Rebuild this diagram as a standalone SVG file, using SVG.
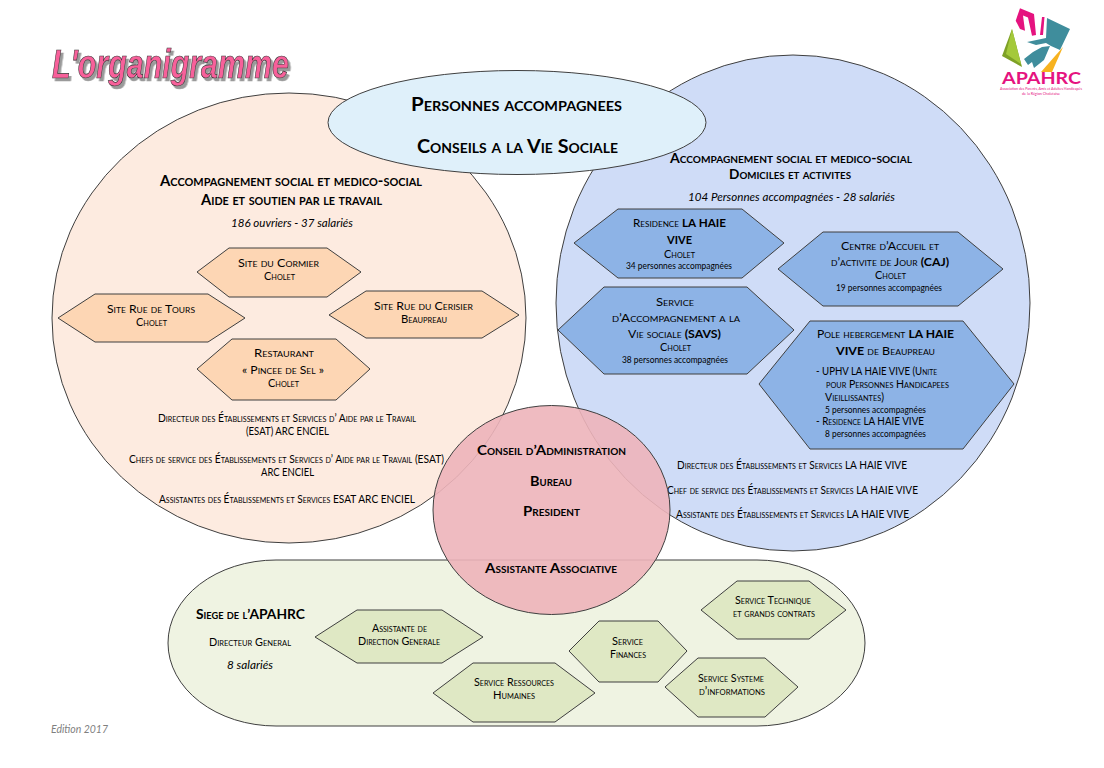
<svg xmlns="http://www.w3.org/2000/svg" width="1104" height="768" viewBox="0 0 1104 768">
<style>
text{font-family:Lato,"Noto Sans","Liberation Sans",sans-serif;fill:#000;font-variant:small-caps}
.sh{stroke:#3f3f3f;stroke-width:1}
.h{font-size:11.5px}
.s{font-size:10.5px}
.p{font-size:8.5px;font-variant:normal}
.t{font-size:15px;font-weight:700}
.l{font-size:18.5px;font-weight:700}
.m{font-size:13.5px;font-weight:700}
.i{font-size:11.5px;font-style:italic;font-variant:normal}
.o{fill:#fdd6b4}.b{fill:#8db3e6}.g{fill:#dfe8c4}
tspan.k{font-weight:700}
</style>
<defs>
<filter id="ts" x="-5%" y="-5%" width="110%" height="125%"><feDropShadow dx="2.5" dy="3" stdDeviation="0.6" flood-color="#9a9a9a"/></filter>
</defs>
<g id="titre"><text x="52" y="78" font-size="41" textLength="237" lengthAdjust="spacingAndGlyphs" filter="url(#ts)" style="font-family:'Liberation Sans',sans-serif;font-weight:700;font-style:italic;font-variant:normal;fill:#f7609a;stroke:#333;stroke-width:0.7">L'organigramme</text></g>
<g id="logo">
<polygon points="1012,29 1002,56 1022,67" fill="#7ea126"/>
<polygon points="1012,29 1006,54 1021,64" fill="#a4c93a"/>
<path d="M1015.7,20.7 L1020,8.3 L1034,14 L1036,35 L1032,35.7 L1028,17.5 L1023,15.5 L1025,30.7 L1020,29Z M1042,17 L1044.5,17 L1043,35 L1040,35Z" fill="#e5137f"/>
<path d="M1047,18 L1070,29 L1060,50 L1051,46 L1046,43 L1036,45 L1027,42 L1046,38Z" fill="#3f8d9c"/>
<path d="M1050,46 L1044,60 L1034,68 L1032,62 L1028,65 L1024,59 L1033,52 L1042,47Z" fill="#3f8d9c"/>
<path d="M1063,47 L1052,72 L1041,72Z" fill="#f7b21f"/>
<text x="1002" y="84" font-size="17" textLength="79" lengthAdjust="spacingAndGlyphs" style="font-variant:normal;font-weight:700;fill:#e5137f">APAHRC</text>
<text x="1000" y="90" font-size="3.4" textLength="82" lengthAdjust="spacingAndGlyphs" style="font-variant:normal;fill:#e5137f">Association des Parents, Amis et Adultes Handicapés</text>
<text x="1022" y="94.5" font-size="3.4" textLength="38" lengthAdjust="spacingAndGlyphs" style="font-variant:normal;fill:#e5137f">de la Région Choletaise</text>
</g>
<g id="esat">
<ellipse class="sh" cx="289" cy="318" rx="237" ry="225" fill="#fdebe0"/>
<text class="t" x="160" y="186" textLength="262" lengthAdjust="spacingAndGlyphs">Accompagnement social et medico-social</text>
<text class="t" x="201" y="205" textLength="181" lengthAdjust="spacingAndGlyphs">Aide et soutien par le travail</text>
<text class="i" x="231" y="227" textLength="122" lengthAdjust="spacingAndGlyphs">186 ouvriers - 37 salariés</text>
<text class="h" x="158" y="422" textLength="258" lengthAdjust="spacingAndGlyphs">Directeur des Établissements et Services d’ Aide par le Travail</text>
<text class="h" x="246" y="435" textLength="83" lengthAdjust="spacingAndGlyphs">(ESAT) ARC ENCIEL</text>
<text class="h" x="129" y="463" textLength="315" lengthAdjust="spacingAndGlyphs">Chefs de service des Établissements et Services d’ Aide par le Travail (ESAT)</text>
<text class="h" x="261" y="476" textLength="53" lengthAdjust="spacingAndGlyphs">ARC ENCIEL</text>
<text class="h" x="159" y="503" textLength="256" lengthAdjust="spacingAndGlyphs">Assistantes des Établissements et Services ESAT ARC ENCIEL</text>
</g>
<g id="domiciles">
<ellipse class="sh" cx="793" cy="303" rx="237" ry="248" fill="#cfdcf7"/>
<text class="t" style="font-size:14px" x="670" y="163" textLength="242" lengthAdjust="spacingAndGlyphs">Accompagnement social et medico-social</text>
<text class="t" style="font-size:14px" x="729" y="179" textLength="122" lengthAdjust="spacingAndGlyphs">Domiciles et activites</text>
<text class="i" x="688" y="201" textLength="207" lengthAdjust="spacingAndGlyphs">104 Personnes accompagnées - 28 salariés</text>
<text class="h" x="677" y="469" textLength="230" lengthAdjust="spacingAndGlyphs">Directeur des Établissements et Services LA HAIE VIVE</text>
<text class="h" x="667" y="494" textLength="251" lengthAdjust="spacingAndGlyphs">Chef de service des Établissements et Services LA HAIE VIVE</text>
<text class="h" x="676" y="518" textLength="233" lengthAdjust="spacingAndGlyphs">Assistante des Établissements et Services LA HAIE VIVE</text>
</g>
<g id="siege">
<rect class="sh" x="168" y="560" width="697" height="166" rx="108" ry="83" fill="#eff3e2"/>
<text class="m" x="196" y="619" textLength="109" lengthAdjust="spacingAndGlyphs">Siege de l’APAHRC</text>
<text class="h" x="209" y="646" textLength="82" lengthAdjust="spacingAndGlyphs">Directeur General</text>
<text class="i" x="227" y="669" textLength="46" lengthAdjust="spacingAndGlyphs">8 salariés</text>
</g>
<g id="personnes">
<ellipse class="sh" cx="517" cy="122.5" rx="189" ry="52" fill="#dff0fa"/>
<text class="l" x="411" y="111" textLength="211" lengthAdjust="spacingAndGlyphs">Personnes accompagnees</text>
<text class="l" x="417" y="153" textLength="201" lengthAdjust="spacingAndGlyphs">Conseils a la Vie Sociale</text>
</g>
<g id="conseil">
<ellipse class="sh" cx="551.5" cy="510" rx="118.5" ry="104.5" fill="#edb4ba" fill-opacity="0.9"/>
<text class="m" x="477" y="455" textLength="149" lengthAdjust="spacingAndGlyphs">Conseil d’Administration</text>
<text class="m" x="530" y="486" textLength="42" lengthAdjust="spacingAndGlyphs">Bureau</text>
<text class="m" x="523" y="516" textLength="57" lengthAdjust="spacingAndGlyphs">President</text>
<text class="m" x="485" y="573" textLength="132" lengthAdjust="spacingAndGlyphs">Assistante Associative</text>
</g>
<g id="site-cormier"><polygon class="sh o" points="197,272 229,248 327,248 361,272 327,297 229,297"/>
<text class="h" x="238" y="267" textLength="81" lengthAdjust="spacingAndGlyphs">Site du Cormier</text>
<text class="s" x="264" y="280" textLength="31" lengthAdjust="spacingAndGlyphs">Cholet</text></g>
<g id="site-tours"><polygon class="sh o" points="58,318 95,294 208,294 245,318 208,342 95,342"/>
<text class="h" x="107" y="313" textLength="88" lengthAdjust="spacingAndGlyphs">Site Rue de Tours</text>
<text class="s" x="136" y="326" textLength="31" lengthAdjust="spacingAndGlyphs">Cholet</text></g>
<g id="site-cerisier"><polygon class="sh o" points="329,315 366,291 482,291 519,315 482,338 366,338"/>
<text class="h" x="374" y="310" textLength="99" lengthAdjust="spacingAndGlyphs">Site Rue du Cerisier</text>
<text class="s" x="401" y="323" textLength="46" lengthAdjust="spacingAndGlyphs">Beaupreau</text></g>
<g id="restaurant"><polygon class="sh o" points="197,369 232,339 336,339 370,369 336,400 232,400"/>
<text class="h" x="254" y="357" textLength="60" lengthAdjust="spacingAndGlyphs">Restaurant</text>
<text class="h" x="242" y="374" textLength="82" lengthAdjust="spacingAndGlyphs">« Pincee de Sel »</text>
<text class="s" x="268" y="387" textLength="31" lengthAdjust="spacingAndGlyphs">Cholet</text></g>
<g id="residence"><polygon class="sh b" points="574,243 618,209 742,209 784,243 742,278 618,278"/>
<text class="h" x="633" y="227" textLength="93" lengthAdjust="spacingAndGlyphs">Residence <tspan class="k">LA HAIE</tspan></text>
<text class="h" style="font-weight:700" x="667" y="244" textLength="25" lengthAdjust="spacingAndGlyphs">VIVE</text>
<text class="s" x="664" y="258" textLength="31" lengthAdjust="spacingAndGlyphs">Cholet</text>
<text class="p" x="626" y="269" textLength="106" lengthAdjust="spacingAndGlyphs">34 personnes accompagnées</text></g>
<g id="caj"><polygon class="sh b" points="778,269 823,232 958,232 1003,269 958,306 823,306"/>
<text class="h" x="841" y="250" textLength="98" lengthAdjust="spacingAndGlyphs">Centre d’Accueil et</text>
<text class="h" x="831" y="266" textLength="118" lengthAdjust="spacingAndGlyphs">d’activite de Jour <tspan class="k">(CAJ)</tspan></text>
<text class="s" x="875" y="279" textLength="31" lengthAdjust="spacingAndGlyphs">Cholet</text>
<text class="p" x="836" y="291" textLength="106" lengthAdjust="spacingAndGlyphs">19 personnes accompagnées</text></g>
<g id="savs"><polygon class="sh b" points="558,330 604,287 747,287 794,330 747,374 604,374"/>
<text class="h" x="656" y="306" textLength="38" lengthAdjust="spacingAndGlyphs">Service</text>
<text class="h" x="612" y="322" textLength="128" lengthAdjust="spacingAndGlyphs">d’Accompagnement a la</text>
<text class="h" x="628" y="338" textLength="93" lengthAdjust="spacingAndGlyphs">Vie sociale <tspan class="k">(SAVS)</tspan></text>
<text class="s" x="660" y="351" textLength="31" lengthAdjust="spacingAndGlyphs">Cholet</text>
<text class="p" x="622" y="363" textLength="106" lengthAdjust="spacingAndGlyphs">38 personnes accompagnées</text></g>
<g id="pole"><polygon class="sh b" points="759,384 810,321 963,321 1014,384 963,449 810,449"/>
<text class="h" x="817" y="338" textLength="137" lengthAdjust="spacingAndGlyphs">Pole hebergement <tspan class="k">LA HAIE</tspan></text>
<text class="h" x="836" y="355" textLength="99" lengthAdjust="spacingAndGlyphs"><tspan class="k">VIVE</tspan> de Beaupreau</text>
<text class="h" x="816" y="375" textLength="121" lengthAdjust="spacingAndGlyphs">- UPHV LA HAIE VIVE (Unite</text>
<text class="h" x="826" y="388" textLength="123" lengthAdjust="spacingAndGlyphs">pour Personnes Handicapees</text>
<text class="h" x="825" y="401" textLength="59" lengthAdjust="spacingAndGlyphs">Vieillissantes)</text>
<text class="p" x="825" y="413" textLength="101" lengthAdjust="spacingAndGlyphs">5 personnes accompagnées</text>
<text class="h" x="816" y="425" textLength="108" lengthAdjust="spacingAndGlyphs">- Residence LA HAIE VIVE</text>
<text class="p" x="825" y="437" textLength="101" lengthAdjust="spacingAndGlyphs">8 personnes accompagnées</text></g>
<g id="assistante-dg"><polygon class="sh g" points="315,637 357,610 442,610 483,637 442,663 357,663"/>
<text class="s" x="372" y="632" textLength="55" lengthAdjust="spacingAndGlyphs">Assistante de</text>
<text class="s" x="358" y="645" textLength="82" lengthAdjust="spacingAndGlyphs">Direction Generale</text></g>
<g id="service-rh"><polygon class="sh g" points="433,693 473,663 555,663 595,693 555,722 473,722"/>
<text class="s" x="474" y="686" textLength="80" lengthAdjust="spacingAndGlyphs">Service Ressources</text>
<text class="s" x="493" y="699" textLength="42" lengthAdjust="spacingAndGlyphs">Humaines</text></g>
<g id="service-finances"><polygon class="sh g" points="569,651 599,621 658,621 687,651 658,682 599,682"/>
<text class="s" x="612" y="645" textLength="31" lengthAdjust="spacingAndGlyphs">Service</text>
<text class="s" x="610" y="658" textLength="36" lengthAdjust="spacingAndGlyphs">Finances</text></g>
<g id="service-technique"><polygon class="sh g" points="701,610 737,581 809,581 846,610 809,639 737,639"/>
<text class="s" x="735" y="604" textLength="76" lengthAdjust="spacingAndGlyphs">Service Technique</text>
<text class="s" x="733" y="617" textLength="82" lengthAdjust="spacingAndGlyphs">et grands contrats</text></g>
<g id="service-systeme"><polygon class="sh g" points="665,687 698,658 765,658 798,687 765,717 698,717"/>
<text class="s" x="698" y="682" textLength="66" lengthAdjust="spacingAndGlyphs">Service Systeme</text>
<text class="s" x="699" y="695" textLength="66" lengthAdjust="spacingAndGlyphs">d’informations</text></g>
<g id="edition"><text x="51" y="733" font-size="10.5" textLength="57" lengthAdjust="spacingAndGlyphs" style="font-style:italic;font-variant:normal;fill:#7f7f7f">Edition 2017</text></g>
</svg>
